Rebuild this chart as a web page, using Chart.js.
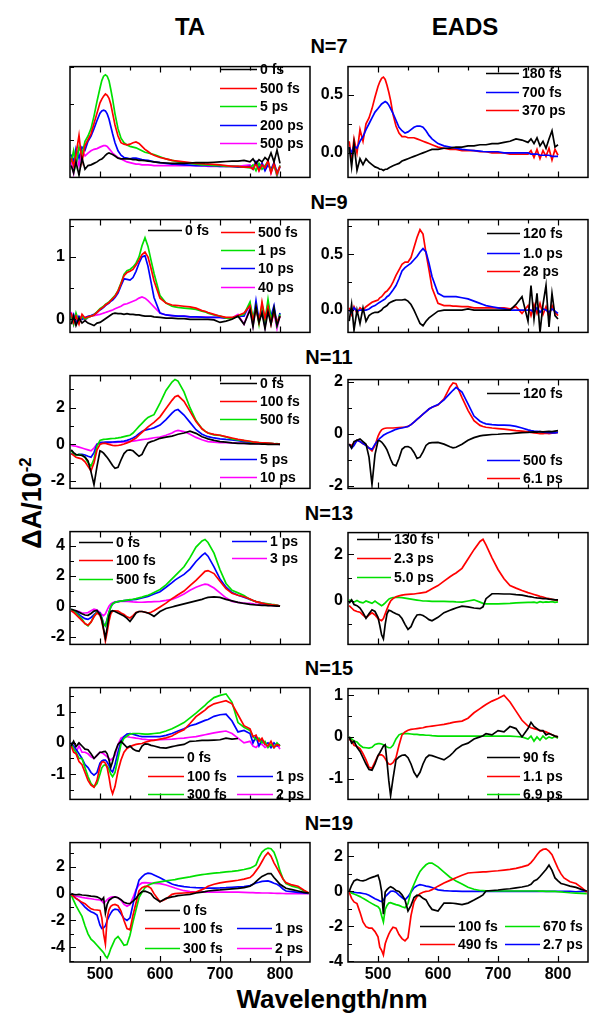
<!DOCTYPE html>
<html><head><meta charset="utf-8">
<script src="https://cdn.jsdelivr.net/npm/chart.js@4.4.1/dist/chart.umd.min.js"></script>
<style>
body{margin:0;background:#fff;width:604px;height:1029px;position:relative;overflow:hidden;font-family:'Liberation Sans',Arial,sans-serif;}
.t{position:absolute;font-weight:bold;color:#000;white-space:nowrap;transform:translate(-50%,-50%);line-height:1;}
canvas{position:absolute;}
sup{font-size:62%;vertical-align:0.55em;}
</style></head><body>
<div class="t" style="left:190px;top:27px;font-size:24px">TA</div>
<div class="t" style="left:465px;top:27px;font-size:24px">EADS</div>
<div class="t" style="left:329px;top:46px;font-size:20px">N=7</div>
<div class="t" style="left:329px;top:202px;font-size:20px">N=9</div>
<div class="t" style="left:329px;top:357px;font-size:20px">N=11</div>
<div class="t" style="left:329px;top:513px;font-size:20px">N=13</div>
<div class="t" style="left:329px;top:668px;font-size:20px">N=15</div>
<div class="t" style="left:329px;top:823px;font-size:20px">N=19</div>
<div class="t" style="left:32px;top:503px;font-size:27px;transform:translate(-50%,-50%) rotate(-90deg)">ΔA/10<sup>-2</sup></div>
<div class="t" style="left:332px;top:999px;font-size:26px">Wavelength/nm</div>
<script>
// ---------- wavelength grids (nm) ----------
const wl = [452,456,460,465,470,475,480,485,490,495,
 500,503,506,509,512,515,518,521,525,530,
 535,540,545,550,555,560,565,570,575,580,
 585,590,600,610,620,625,630,640,650,660,
 670,675,680,690,700,710,720,730,740,750,
 755,760,765,770,775,780,785,790,795,800];
const wl19 = [452,456,460,465,470,475,480,485,490,495,
 500,503,506,509,512,515,518,521,525,530,
 535,540,545,550,555,560,565,570,575,580,
 585,590,600,610,620,625,630,640,650,660,
 670,675,680,690,700,710,720,730,740,750,
 755,760,765,770,775,780,785,790,795,800,
 805,810,820,830,840,848];
const xTickVals = [500,550,600,650,700,750,800];
const xLabels = [500,600,700,800];

// ---------- N=7 TA ----------
const n7TA_labels = ['0 fs','500 fs','5 ps','200 ps','500 ps'];
const n7TA_0fs = [0.05,-0.05,0.10,-0.08,0.15,0.00,0.05,0.06,0.08,0.10,
0.13,0.14,0.16,0.19,0.21,0.22,0.21,0.20,0.18,0.15,
0.14,0.14,0.14,0.14,0.13,0.13,0.12,0.12,0.115,0.11,
0.105,0.10,0.09,0.085,0.08,0.08,0.08,0.08,0.085,0.09,
0.09,0.09,0.09,0.095,0.10,0.105,0.11,0.11,0.12,0.10,
0.14,0.08,0.13,0.10,0.16,0.12,0.22,0.10,0.26,0.08];
const n7TA_500fs = [0.15,0.05,0.20,0.46,0.10,0.32,0.40,0.48,0.62,0.76,
0.90,0.95,0.99,1.02,1.00,0.96,0.88,0.76,0.60,0.45,
0.36,0.34,0.33,0.34,0.36,0.37,0.35,0.31,0.27,0.24,
0.21,0.19,0.16,0.14,0.12,0.115,0.11,0.10,0.09,0.08,
0.075,0.072,0.07,0.065,0.06,0.05,0.04,0.04,0.03,0.03,
0.00,0.08,-0.02,0.06,0.02,0.12,-0.05,0.08,-0.06,0.04];
const n7TA_5ps = [0.10,0.25,0.05,0.30,0.20,0.38,0.45,0.55,0.72,0.92,
1.10,1.20,1.26,1.28,1.26,1.20,1.08,0.95,0.75,0.55,
0.42,0.36,0.33,0.31,0.30,0.29,0.27,0.25,0.23,0.22,
0.21,0.20,0.17,0.14,0.12,0.11,0.10,0.09,0.08,0.07,
0.06,0.06,0.06,0.05,0.05,0.04,0.04,0.04,0.03,0.02,
0.06,-0.02,0.08,0.00,0.05,0.10,-0.03,0.06,-0.08,0.05];
const n7TA_200ps = [0.20,0.10,0.28,0.15,0.30,0.26,0.38,0.45,0.55,0.66,
0.76,0.79,0.80,0.79,0.75,0.68,0.58,0.48,0.36,0.25,
0.19,0.16,0.15,0.14,0.15,0.15,0.14,0.13,0.125,0.12,
0.11,0.10,0.09,0.08,0.07,0.068,0.065,0.06,0.055,0.05,
0.05,0.05,0.05,0.045,0.04,0.04,0.04,0.03,0.03,0.04,
0.00,0.10,0.02,0.08,-0.02,0.06,0.00,0.09,-0.04,0.03];
const n7TA_500ps = [0.10,-0.05,0.22,0.05,0.25,0.18,0.22,0.25,0.27,0.28,
0.30,0.31,0.32,0.32,0.31,0.28,0.25,0.22,0.19,0.16,
0.14,0.12,0.10,0.09,0.08,0.07,0.07,0.06,0.06,0.06,
0.055,0.05,0.05,0.05,0.05,0.05,0.05,0.05,0.05,0.05,
0.045,0.045,0.04,0.04,0.04,0.04,0.04,0.04,0.05,0.06,
0.02,0.10,-0.02,0.08,0.02,0.10,-0.05,0.07,-0.10,0.05];

// ---------- N=7 EADS ----------
const n7EADS_labels = ['180 fs','700 fs','370 ps'];
const n7EADS_180fs = [0.05,-0.12,0.08,-0.15,-0.05,-0.10,-0.05,-0.08,-0.10,-0.12,
-0.13,-0.14,-0.14,-0.15,-0.14,-0.14,-0.13,-0.12,-0.11,-0.10,
-0.09,-0.07,-0.06,-0.05,-0.04,-0.03,-0.02,-0.01,0.00,0.01,
0.02,0.03,0.03,0.04,0.04,0.045,0.05,0.05,0.06,0.06,
0.07,0.07,0.07,0.08,0.08,0.09,0.10,0.12,0.11,0.09,
0.12,0.08,0.13,0.06,0.10,0.04,0.12,0.19,0.05,0.07];
const n7EADS_700fs = [0.05,0.00,0.06,0.04,0.10,0.14,0.20,0.25,0.30,0.35,
0.38,0.40,0.42,0.43,0.44,0.43,0.41,0.38,0.34,0.28,
0.22,0.19,0.17,0.18,0.20,0.22,0.23,0.23,0.22,0.19,
0.15,0.12,0.08,0.06,0.05,0.045,0.04,0.03,0.025,0.02,
0.015,0.012,0.01,0.01,0.01,0.00,0.00,0.00,0.00,0.00,
-0.01,-0.01,-0.01,-0.02,-0.02,-0.02,-0.02,-0.03,-0.03,-0.03];
const n7EADS_370ps = [0.10,-0.05,0.12,0.00,0.20,0.10,0.25,0.30,0.38,0.48,
0.57,0.61,0.64,0.65,0.63,0.58,0.52,0.45,0.33,0.23,
0.17,0.14,0.14,0.13,0.13,0.13,0.12,0.11,0.10,0.09,
0.08,0.07,0.05,0.04,0.03,0.03,0.03,0.02,0.02,0.02,
0.01,0.01,0.01,0.00,0.00,0.00,-0.01,-0.01,-0.01,-0.01,
0.02,-0.04,0.03,-0.05,0.02,-0.03,0.04,-0.06,0.03,-0.02];

// ---------- N=9 TA ----------
const n9TA_labels = ['0 fs','500 fs','1 ps','10 ps','40 ps'];
const n9TA_0fs = [-0.08,0.05,-0.10,0.02,-0.06,-0.02,-0.06,-0.08,-0.10,-0.06,
-0.05,-0.03,-0.01,0.01,0.03,0.05,0.07,0.09,0.10,0.09,
0.09,0.08,0.09,0.08,0.08,0.07,0.07,0.06,0.05,0.05,
0.05,0.04,0.03,0.02,0.02,0.015,0.01,0.01,0.00,0.00,
0.00,0.00,0.00,-0.01,-0.05,-0.03,0.00,0.05,-0.08,0.15,
-0.12,0.20,-0.05,0.10,-0.15,0.12,-0.08,0.18,-0.10,0.05];
const n9TA_500fs = [0.10,-0.05,0.05,-0.08,0.08,0.02,0.04,0.05,0.07,0.11,
0.16,0.18,0.20,0.23,0.25,0.27,0.30,0.33,0.37,0.45,
0.57,0.70,0.75,0.77,0.80,0.87,0.95,1.04,1.08,1.00,
0.82,0.62,0.34,0.26,0.23,0.225,0.22,0.21,0.20,0.18,
0.14,0.13,0.11,0.08,0.05,0.03,0.03,0.06,0.10,0.22,
-0.02,0.18,-0.05,0.28,0.02,0.20,-0.08,0.12,-0.05,0.05];
const n9TA_1ps = [0.05,-0.08,0.10,-0.05,0.05,0.00,0.03,0.05,0.07,0.12,
0.17,0.19,0.21,0.24,0.26,0.28,0.31,0.34,0.38,0.46,
0.58,0.72,0.78,0.80,0.84,0.90,1.00,1.18,1.31,1.17,
0.95,0.74,0.38,0.26,0.21,0.20,0.19,0.18,0.17,0.16,
0.13,0.12,0.10,0.07,0.05,0.02,0.02,0.05,0.08,0.28,
0.02,0.20,-0.08,0.24,-0.02,0.32,0.00,0.15,-0.10,0.08];
const n9TA_10ps = [0.00,0.08,-0.05,0.05,0.00,0.03,0.05,0.06,0.08,0.11,
0.15,0.17,0.19,0.22,0.24,0.26,0.29,0.31,0.35,0.42,
0.54,0.65,0.64,0.63,0.67,0.77,0.90,1.00,1.02,0.85,
0.60,0.35,0.10,0.07,0.06,0.055,0.05,0.05,0.04,0.04,
0.035,0.03,0.03,0.03,0.03,0.02,0.02,0.05,0.05,0.25,
-0.05,0.30,-0.02,0.18,-0.10,0.25,0.05,0.22,-0.08,0.10];
const n9TA_40ps = [0.12,-0.08,0.08,0.00,0.05,-0.02,0.03,0.05,0.06,0.07,
0.08,0.09,0.10,0.11,0.12,0.13,0.14,0.15,0.17,0.19,
0.21,0.24,0.25,0.27,0.29,0.31,0.34,0.36,0.34,0.30,
0.25,0.20,0.10,0.07,0.06,0.055,0.05,0.05,0.04,0.04,
0.035,0.035,0.03,0.03,0.03,0.02,0.02,0.08,-0.08,0.18,
-0.10,0.20,0.00,0.12,-0.12,0.22,-0.05,0.10,-0.15,0.06];

// ---------- N=9 EADS ----------
const n9EADS_labels = ['120 fs','1.0 ps','28 ps'];
const n9EADS_120fs = [-0.10,0.05,-0.18,0.00,-0.12,0.02,-0.10,-0.05,-0.03,-0.02,
-0.02,-0.01,0.00,0.02,0.03,0.04,0.06,0.07,0.08,0.09,
0.09,0.09,0.095,0.08,0.05,0.00,-0.06,-0.12,-0.14,-0.10,
-0.07,-0.05,-0.01,0.00,0.00,0.00,0.00,0.00,0.01,0.00,
0.00,0.00,0.00,0.00,0.00,0.00,0.00,0.05,0.12,-0.10,
0.22,-0.08,0.15,-0.20,0.05,0.22,-0.15,0.15,-0.05,-0.08];
const n9EADS_1ps = [0.00,-0.02,0.02,-0.01,0.00,0.00,0.00,0.01,0.03,0.04,
0.06,0.07,0.08,0.09,0.10,0.12,0.13,0.15,0.18,0.22,
0.28,0.35,0.38,0.40,0.42,0.45,0.48,0.52,0.55,0.52,
0.42,0.30,0.15,0.12,0.12,0.12,0.12,0.11,0.10,0.08,
0.06,0.05,0.04,0.03,0.02,0.01,0.00,0.00,0.00,0.00,
0.00,-0.02,0.02,-0.02,0.01,0.00,-0.02,0.01,-0.01,-0.03];
const n9EADS_28ps = [0.02,-0.04,0.03,-0.03,0.02,0.00,0.03,0.05,0.07,0.08,
0.09,0.11,0.12,0.14,0.16,0.17,0.19,0.21,0.25,0.31,
0.36,0.41,0.43,0.43,0.47,0.56,0.65,0.72,0.68,0.51,
0.36,0.20,0.06,0.04,0.04,0.035,0.035,0.03,0.03,0.02,
0.02,0.02,0.02,0.02,0.02,0.02,0.01,0.03,-0.03,0.04,
-0.05,0.05,-0.03,0.06,-0.04,0.03,-0.06,0.04,-0.02,-0.05];

// ---------- N=11 TA ----------
const n11TA_labels = ['0 fs','100 fs','500 fs','5 ps','10 ps'];
const n11TA_0fs = [-0.30,-0.45,-0.55,-0.58,-0.60,-0.70,-0.90,-1.50,-2.20,-1.20,
-0.35,-0.40,-0.48,-0.60,-0.72,-0.85,-1.00,-1.15,-1.30,-1.25,
-0.85,-0.50,-0.33,-0.30,-0.35,-0.50,-0.65,-0.55,-0.20,0.08,
0.15,0.20,0.33,0.40,0.45,0.50,0.55,0.62,0.72,0.60,
0.42,0.36,0.30,0.22,0.15,0.12,0.08,0.06,0.05,0.03,
0.03,0.02,0.02,0.01,0.01,0.00,0.00,0.00,0.00,0.00];
const n11TA_100fs = [-0.50,-0.60,-0.70,-0.75,-0.80,-0.95,-1.20,-1.45,-1.00,-0.30,
0.00,0.04,0.05,0.05,0.03,0.00,-0.03,-0.05,-0.07,-0.06,
-0.03,0.02,0.08,0.15,0.25,0.35,0.50,0.65,0.80,0.95,
1.08,1.20,1.50,1.95,2.40,2.60,2.66,2.35,1.80,1.25,
0.85,0.72,0.62,0.55,0.50,0.42,0.35,0.28,0.22,0.17,
0.14,0.12,0.10,0.09,0.08,0.07,0.06,0.04,0.03,0.02];
const n11TA_500fs = [-0.35,-0.50,-0.60,-0.55,-0.60,-0.70,-1.00,-1.18,-0.80,-0.10,
0.22,0.25,0.27,0.28,0.29,0.30,0.31,0.32,0.33,0.35,
0.38,0.42,0.46,0.50,0.62,0.80,0.98,1.15,1.32,1.47,
1.55,1.62,2.25,2.94,3.40,3.54,3.45,2.86,2.00,1.30,
0.85,0.72,0.62,0.52,0.49,0.40,0.30,0.25,0.20,0.15,
0.12,0.10,0.10,0.08,0.05,0.05,0.06,0.03,0.04,0.00];
const n11TA_5ps = [-0.50,-0.55,-0.60,-0.55,-0.55,-0.58,-0.65,-0.70,-0.45,0.00,
0.10,0.11,0.11,0.12,0.12,0.12,0.12,0.13,0.14,0.15,
0.16,0.18,0.22,0.28,0.35,0.45,0.58,0.70,0.78,0.82,
0.85,0.90,1.05,1.35,1.70,1.85,1.90,1.60,1.20,0.80,
0.55,0.48,0.42,0.35,0.30,0.27,0.25,0.20,0.15,0.12,
0.10,0.08,0.07,0.06,0.05,0.05,0.04,0.03,0.02,0.02];
const n11TA_10ps = [-0.05,-0.08,-0.10,-0.15,-0.20,-0.25,-0.30,-0.35,-0.20,0.02,
0.07,0.08,0.09,0.09,0.10,0.10,0.10,0.11,0.11,0.12,
0.12,0.13,0.14,0.16,0.18,0.20,0.23,0.26,0.28,0.30,
0.33,0.36,0.40,0.50,0.62,0.72,0.76,0.70,0.55,0.38,
0.25,0.20,0.15,0.12,0.10,0.09,0.08,0.07,0.06,0.05,
0.05,0.04,0.04,0.03,0.03,0.02,0.02,0.01,0.01,0.00];

// ---------- N=11 EADS ----------
const n11EADS_labels = ['120 fs','500 fs','6.1 ps'];
const n11EADS_120fs = [-0.40,-0.55,-0.30,-0.25,-0.20,-0.30,-0.40,-0.90,-1.95,-0.80,
-0.27,-0.27,-0.32,-0.40,-0.50,-0.62,-0.80,-0.98,-1.18,-1.23,
-0.95,-0.60,-0.50,-0.49,-0.55,-0.72,-0.95,-0.90,-0.70,-0.45,
-0.36,-0.34,-0.33,-0.40,-0.50,-0.54,-0.52,-0.40,-0.25,-0.15,
-0.08,-0.06,-0.05,-0.03,-0.02,0.00,0.00,0.02,0.04,0.05,
0.06,0.07,0.06,0.08,0.07,0.08,0.09,0.08,0.10,0.12];
const n11EADS_500fs = [-0.40,-0.55,-0.45,-0.25,-0.30,-0.38,-0.45,-0.55,-0.60,-0.40,
-0.25,-0.18,-0.12,-0.06,-0.02,0.02,0.05,0.08,0.12,0.17,
0.20,0.22,0.25,0.28,0.35,0.45,0.55,0.65,0.75,0.85,
0.95,1.02,1.12,1.30,1.55,1.67,1.78,1.60,1.15,0.68,
0.48,0.42,0.38,0.35,0.33,0.33,0.32,0.28,0.22,0.15,
0.12,0.10,0.09,0.08,0.06,0.05,0.04,0.03,0.03,0.05];
const n11EADS_6ps = [-0.40,-0.45,-0.35,-0.25,-0.30,-0.38,-0.43,-0.55,-0.66,-0.45,
-0.10,0.05,0.15,0.19,0.21,0.22,0.22,0.22,0.22,0.23,
0.24,0.25,0.26,0.28,0.35,0.45,0.55,0.65,0.75,0.85,
0.95,1.02,1.10,1.34,1.80,1.95,1.92,1.39,0.90,0.50,
0.32,0.28,0.25,0.22,0.20,0.18,0.15,0.12,0.10,0.07,
0.05,0.03,0.02,0.00,0.00,0.02,0.00,0.02,0.03,0.05];

// ---------- N=13 TA ----------
const n13TA_labels = ['0 fs','100 fs','500 fs','1 ps','3 ps'];
const n13TA_0fs = [-0.20,-0.25,-0.30,-0.40,-0.50,-0.58,-0.60,-0.48,-0.32,-0.28,
-0.55,-0.90,-1.50,-2.10,-1.40,-0.65,-0.35,-0.30,-0.35,-0.45,
-0.55,-0.65,-0.80,-1.00,-0.75,-0.45,-0.35,-0.35,-0.40,-0.45,
-0.55,-0.67,-0.35,-0.15,-0.05,0.00,0.05,0.15,0.25,0.35,
0.45,0.52,0.58,0.62,0.58,0.45,0.35,0.25,0.18,0.12,
0.10,0.08,0.07,0.06,0.05,0.04,0.03,0.02,0.01,0.00];
const n13TA_100fs = [-0.30,-0.40,-0.55,-0.75,-0.95,-1.15,-1.25,-1.05,-0.70,-0.45,
-0.60,-1.00,-1.60,-2.30,-1.70,-1.00,-0.50,-0.32,-0.30,-0.32,
-0.45,-0.55,-0.70,-0.78,-0.62,-0.42,-0.35,-0.35,-0.38,-0.45,
-0.40,-0.30,-0.05,0.20,0.50,0.62,0.75,1.00,1.35,1.70,
2.10,2.30,2.35,2.15,1.65,1.15,0.85,0.72,0.62,0.48,
0.38,0.30,0.25,0.20,0.16,0.12,0.10,0.08,0.05,0.00];
const n13TA_500fs = [-0.20,-0.30,-0.45,-0.65,-0.85,-1.15,-1.30,-1.05,-0.65,-0.40,
-0.50,-0.80,-1.20,-1.30,-0.90,-0.40,-0.05,0.15,0.25,0.30,
0.34,0.37,0.40,0.43,0.46,0.50,0.55,0.60,0.66,0.72,
0.80,0.90,1.10,1.40,1.80,2.00,2.20,2.60,3.20,3.90,
4.30,4.40,4.20,3.50,2.40,1.50,1.05,0.88,0.70,0.45,
0.38,0.30,0.25,0.20,0.18,0.15,0.12,0.10,0.05,0.00];
const n13TA_1ps = [-0.20,-0.28,-0.40,-0.55,-0.70,-0.82,-0.87,-0.75,-0.55,-0.38,
-0.45,-0.75,-1.15,-1.30,-0.85,-0.40,-0.05,0.15,0.25,0.30,
0.34,0.37,0.39,0.41,0.43,0.45,0.50,0.55,0.60,0.65,
0.72,0.80,0.95,1.25,1.55,1.72,1.85,2.10,2.45,2.95,
3.35,3.50,3.30,2.60,1.80,1.25,0.90,0.72,0.60,0.45,
0.38,0.30,0.25,0.20,0.16,0.12,0.10,0.08,0.05,0.00];
const n13TA_3ps = [-0.30,-0.40,-0.30,-0.35,-0.45,-0.45,-0.42,-0.30,-0.20,-0.25,
-0.40,-0.55,-0.63,-0.50,-0.25,0.00,0.15,0.22,0.28,0.30,
0.32,0.33,0.32,0.30,0.28,0.27,0.26,0.26,0.27,0.28,
0.29,0.30,0.32,0.38,0.45,0.52,0.60,0.80,1.05,1.25,
1.40,1.45,1.42,1.20,0.88,0.55,0.32,0.25,0.20,0.18,
0.15,0.12,0.12,0.10,0.08,0.06,0.05,0.04,0.02,0.00];

// ---------- N=13 EADS ----------
const n13EADS_labels = ['130 fs','2.3 ps','5.0 ps'];
const n13EADS_130fs = [-0.10,0.05,-0.15,-0.20,-0.30,-0.50,-0.74,-0.55,-0.38,-0.45,
-0.70,-1.05,-1.45,-1.62,-1.00,-0.55,-0.40,-0.42,-0.48,-0.55,
-0.60,-0.75,-1.00,-1.22,-1.10,-0.80,-0.60,-0.58,-0.62,-0.70,
-0.80,-0.85,-0.70,-0.50,-0.40,-0.35,-0.30,-0.22,-0.25,-0.30,
-0.33,-0.25,0.10,0.31,0.31,0.30,0.30,0.27,0.25,0.20,
0.18,0.15,0.13,0.12,0.10,0.10,0.08,0.07,0.05,0.05];
const n13EADS_2ps = [-0.20,-0.30,-0.40,-0.45,-0.48,-0.60,-0.71,-0.60,-0.51,-0.60,
-0.75,-0.80,-0.84,-0.75,-0.55,-0.35,-0.15,0.00,0.10,0.18,
0.22,0.25,0.27,0.28,0.29,0.30,0.32,0.34,0.36,0.38,
0.45,0.52,0.66,0.85,1.04,1.12,1.20,1.40,1.80,2.20,
2.55,2.64,2.40,1.85,1.35,0.95,0.66,0.55,0.45,0.36,
0.32,0.28,0.24,0.20,0.17,0.13,0.10,0.07,0.05,0.03];
const n13EADS_5ps = [0.05,0.00,-0.05,0.02,-0.05,-0.08,0.00,-0.05,-0.10,0.00,
-0.10,-0.15,-0.20,-0.15,-0.08,0.00,0.08,0.12,0.15,0.15,
0.15,0.14,0.12,0.10,0.08,0.06,0.04,0.02,0.00,0.00,
-0.01,-0.02,-0.02,-0.02,-0.03,-0.03,-0.04,-0.05,0.00,0.05,
-0.05,-0.10,-0.12,-0.12,-0.12,-0.11,-0.10,-0.08,-0.07,-0.06,
-0.06,-0.05,-0.08,-0.03,-0.06,-0.04,-0.05,-0.03,-0.06,-0.04];

// ---------- N=15 TA ----------
const n15TA_labels = ['0 fs','100 fs','300 fs','1 ps','2 ps'];
const n15TA_0fs = [-0.10,0.05,-0.12,0.00,-0.10,-0.20,-0.22,-0.35,-0.50,-0.40,
-0.30,-0.30,-0.28,-0.27,-0.35,-0.55,-0.78,-0.60,-0.30,-0.05,
0.05,-0.05,-0.15,-0.10,-0.20,-0.25,-0.27,-0.10,-0.03,-0.04,
-0.08,-0.10,-0.15,-0.17,-0.12,-0.10,-0.08,-0.05,0.05,0.06,
0.08,0.08,0.08,0.09,0.10,0.15,0.12,0.14,null,null,
null,null,null,null,null,null,null,null,null,null];
const n15TA_100fs = [-0.10,-0.30,-0.35,-0.60,-0.70,-0.95,-1.20,-1.35,-1.42,-1.20,
-0.75,-0.62,-0.60,-0.65,-0.80,-1.10,-1.45,-1.63,-1.40,-0.90,
-0.55,-0.30,-0.18,-0.12,-0.08,-0.05,-0.03,-0.02,0.02,0.05,
0.07,0.08,0.12,0.16,0.22,0.28,0.33,0.42,0.62,0.84,
0.98,1.05,1.14,1.25,1.30,1.35,1.25,0.90,0.55,0.45,
0.20,0.25,0.05,0.15,-0.05,-0.10,0.05,-0.15,-0.05,-0.10];
const n15TA_300fs = [0.00,-0.20,-0.30,-0.50,-0.50,-0.80,-1.08,-1.30,-1.41,-1.30,
-1.00,-0.80,-0.72,-0.70,-0.75,-0.85,-1.00,-1.08,-0.95,-0.50,
-0.05,0.15,0.22,0.28,0.30,0.30,0.30,0.29,0.28,0.28,
0.29,0.30,0.32,0.38,0.45,0.50,0.55,0.65,0.80,0.95,
1.12,1.20,1.30,1.45,1.52,1.57,1.30,0.65,0.50,0.40,
0.20,0.10,0.15,0.00,0.05,-0.15,-0.05,-0.15,0.00,-0.10];
const n15TA_1ps = [0.00,-0.10,-0.20,-0.35,-0.50,-0.70,-0.79,-0.95,-1.03,-0.95,
-0.65,-0.58,-0.55,-0.55,-0.62,-0.72,-0.88,-0.93,-0.70,-0.30,
0.05,0.20,0.28,0.30,0.28,0.25,0.22,0.20,0.20,0.20,
0.20,0.20,0.20,0.24,0.30,0.34,0.38,0.45,0.55,0.60,
0.68,0.72,0.75,0.85,0.90,0.92,0.70,0.35,0.40,0.30,
0.00,0.20,-0.10,0.10,-0.05,0.00,-0.15,0.00,-0.10,-0.05];
const n15TA_2ps = [0.00,-0.10,-0.30,-0.10,-0.30,-0.30,-0.35,-0.45,-0.50,-0.40,
-0.30,-0.32,-0.35,-0.40,-0.45,-0.50,-0.55,-0.50,-0.40,-0.05,
0.15,0.20,0.20,0.18,0.17,0.15,0.14,0.12,0.11,0.10,
0.10,0.10,0.10,0.11,0.12,0.13,0.14,0.15,0.18,0.20,
0.24,0.26,0.28,0.32,0.35,0.38,0.30,0.15,0.00,0.05,
-0.10,-0.15,-0.05,-0.05,-0.15,-0.10,-0.05,-0.15,-0.05,-0.20];

// ---------- N=15 EADS ----------
const n15EADS_labels = ['90 fs','1.1 ps','6.9 ps'];
const n15EADS_90fs = [0.00,-0.15,-0.10,-0.25,-0.35,-0.50,-0.65,-0.78,-0.80,-0.65,
-0.45,-0.38,-0.30,-0.22,-0.19,-0.60,-1.05,-1.41,-1.00,-0.55,
-0.48,-0.44,-0.43,-0.50,-0.65,-0.85,-0.96,-0.85,-0.65,-0.50,
-0.44,-0.45,-0.50,-0.55,-0.45,-0.38,-0.30,-0.20,-0.15,-0.05,
0.00,0.03,0.08,0.05,0.15,0.12,0.25,0.20,0.00,0.20,
0.35,0.25,0.20,0.15,0.15,0.05,0.08,0.05,0.02,0.00];
const n15EADS_1ps = [-0.05,-0.10,-0.20,-0.23,-0.28,-0.40,-0.55,-0.73,-0.75,-0.60,
-0.45,-0.43,-0.43,-0.46,-0.52,-0.60,-0.65,-0.66,-0.62,-0.50,
-0.20,0.05,0.12,0.16,0.18,0.19,0.20,0.21,0.22,0.24,
0.25,0.26,0.28,0.30,0.33,0.35,0.36,0.38,0.45,0.58,
0.68,0.73,0.78,0.86,0.92,1.00,0.84,0.62,0.40,0.26,
0.22,0.20,0.18,0.15,0.14,0.12,0.09,0.05,0.02,0.00];
const n15EADS_7ps = [0.00,-0.05,-0.10,-0.12,-0.20,-0.25,-0.26,-0.27,-0.25,-0.18,
-0.16,-0.16,-0.17,-0.19,-0.21,-0.24,-0.26,-0.26,-0.20,-0.05,
0.05,0.08,0.08,0.08,0.07,0.06,0.06,0.05,0.05,0.04,
0.04,0.03,0.02,0.02,0.02,0.02,0.02,0.02,0.02,0.02,
0.02,0.02,0.02,0.02,0.02,0.02,0.02,0.01,0.00,-0.05,
0.02,-0.10,0.00,-0.08,0.02,-0.05,0.00,-0.03,0.01,-0.03];

// ---------- N=19 TA ----------
const n19TA_labels = ['0 fs','100 fs','300 fs','1 ps','2 ps'];
const n19TA_0fs = [0.00,-0.05,-0.08,-0.05,-0.10,-0.12,-0.15,-0.18,-0.20,-0.24,
-0.35,-0.47,-0.30,-1.45,-0.80,-0.50,-0.40,-0.30,-0.24,-0.30,
-0.45,-0.65,-0.72,-0.75,-0.55,-0.35,-0.05,0.15,0.18,0.10,
0.00,-0.30,-0.60,-0.35,-0.24,-0.20,-0.15,-0.10,-0.05,0.05,
0.12,0.15,0.20,0.25,0.28,0.32,0.36,0.40,0.45,0.55,
0.70,0.90,1.10,1.29,1.40,1.50,1.50,1.20,0.95,0.70,
0.55,0.40,0.30,0.20,0.10,0.05];
const n19TA_100fs = [-0.05,-0.20,-0.35,-0.50,-0.65,-0.75,-0.95,-1.13,-1.20,-1.22,
-1.25,-1.80,-3.00,-3.76,-1.80,-1.20,-0.95,-0.85,-0.80,-0.90,
-1.30,-2.00,-2.60,-2.70,-1.60,-0.70,0.20,0.45,0.55,0.55,
0.40,0.00,-0.60,-0.40,-0.05,0.00,0.02,0.05,0.08,0.12,
0.30,0.40,0.55,0.70,0.80,0.88,0.94,1.00,1.08,1.20,
1.40,1.70,2.00,2.40,2.80,3.06,2.80,2.30,1.90,1.50,
1.10,0.82,0.65,0.55,0.25,0.05];
const n19TA_300fs = [-0.10,-0.50,-0.90,-1.30,-1.70,-2.40,-3.00,-3.40,-3.60,-3.85,
-4.10,-4.25,-4.40,-4.65,-4.80,-4.50,-4.10,-3.80,-3.40,-3.20,
-3.50,-3.85,-3.80,-3.10,-2.10,-1.20,-0.30,0.10,0.45,0.62,
0.72,0.80,0.88,0.95,1.02,1.05,1.10,1.18,1.25,1.35,
1.42,1.45,1.48,1.53,1.57,1.62,1.66,1.72,1.80,1.90,
2.00,2.15,2.70,3.10,3.30,3.40,3.35,3.10,2.50,1.70,
1.10,0.75,0.55,0.45,0.20,0.05];
const n19TA_1ps = [-0.05,-0.20,-0.35,-0.50,-0.75,-1.00,-1.20,-1.35,-1.45,-1.60,
-2.35,-2.60,-2.55,-2.40,-2.00,-1.70,-1.45,-1.25,-1.15,-1.20,
-1.50,-1.85,-2.00,-1.80,-0.80,0.20,1.00,1.25,1.45,1.53,
1.50,1.40,1.18,0.95,0.72,0.65,0.60,0.52,0.48,0.45,
0.43,0.42,0.42,0.42,0.43,0.45,0.48,0.50,0.52,0.60,
0.70,0.80,0.85,0.92,0.94,0.95,0.88,0.78,0.70,0.55,
0.35,0.20,0.15,0.10,0.05,0.02];
const n19TA_2ps = [-0.05,-0.12,-0.18,-0.23,-0.28,-0.32,-0.35,-0.38,-0.42,-0.45,
-0.47,-0.55,-0.70,-0.60,-0.45,-0.35,-0.28,-0.24,-0.23,-0.30,
-0.50,-0.80,-0.94,-0.82,-0.30,0.30,0.65,0.80,0.82,0.80,
0.78,0.76,0.75,0.65,0.50,0.42,0.35,0.22,0.16,0.12,
0.12,0.12,0.12,0.12,0.12,0.12,0.12,0.11,0.10,0.08,
0.07,0.06,0.06,0.05,0.05,0.05,0.04,0.03,0.02,0.02,
0.01,0.00,0.00,0.00,0.00,0.00];

// ---------- N=19 EADS ----------
const n19EADS_labels = ['100 fs','490 fs','670 fs','2.7 ps'];
const n19EADS_100fs = [0.00,0.35,0.60,0.68,0.62,0.60,0.65,0.74,0.80,0.86,
0.93,0.60,0.00,-1.30,-0.04,0.10,0.20,0.27,0.20,0.05,
0.00,-0.20,-0.49,-1.12,-0.80,-0.35,-0.22,-0.25,-0.40,-0.49,
-0.80,-1.03,-1.12,-0.67,-0.67,-0.68,-0.70,-0.76,-0.67,-0.50,
-0.31,-0.20,0.02,0.05,0.08,0.12,0.15,0.20,0.25,0.32,
0.40,0.60,0.68,0.85,1.05,1.25,1.50,1.20,0.77,0.60,
0.45,0.41,0.30,0.23,0.10,0.02];
const n19EADS_490fs = [-0.05,-0.40,-0.60,-0.70,-1.20,-1.75,-2.02,-2.10,-2.10,-2.30,
-2.60,-3.19,-3.37,-3.64,-3.00,-2.70,-2.45,-2.25,-2.05,-2.10,
-2.47,-2.70,-2.83,-2.65,-1.39,-0.60,-0.30,-0.13,-0.05,0.00,
0.02,0.10,0.30,0.48,0.63,0.70,0.78,0.92,1.05,1.08,
1.10,1.11,1.12,1.15,1.18,1.22,1.26,1.32,1.40,1.50,
1.65,1.85,2.10,2.30,2.40,2.43,2.30,2.10,1.70,1.32,
1.00,0.77,0.55,0.45,0.20,-0.04];
const n19EADS_670fs = [0.00,-0.10,-0.15,-0.22,-0.30,-0.40,-0.49,-0.60,-0.70,-0.80,
-0.88,-1.00,-1.39,-1.75,-1.03,-0.80,-0.67,-0.65,-0.70,-0.76,
-0.80,-0.88,-0.94,-0.70,0.00,0.41,0.80,1.14,1.35,1.52,
1.62,1.62,1.40,1.10,0.81,0.70,0.60,0.42,0.24,0.12,
0.05,0.04,0.03,0.02,0.02,0.02,0.02,0.02,0.02,0.02,
0.02,0.02,0.02,0.01,0.01,0.00,0.00,0.00,0.00,-0.02,
-0.03,-0.05,-0.08,-0.10,-0.12,-0.13];
const n19EADS_2ps = [0.00,-0.03,-0.05,-0.08,-0.09,-0.12,-0.15,-0.22,-0.32,-0.42,
-0.49,-0.55,-0.58,-0.50,-0.31,-0.20,-0.10,0.00,0.02,-0.05,
-0.22,-0.35,-0.49,-0.30,-0.05,0.20,0.32,0.38,0.35,0.30,
0.27,0.22,0.09,0.04,0.02,0.01,0.01,0.00,0.00,0.00,
0.00,0.00,0.00,0.00,0.00,0.00,0.00,0.00,0.00,0.00,
0.00,0.00,0.00,0.00,0.00,0.00,0.00,0.00,0.00,0.00,
0.00,0.00,0.00,-0.02,0.00,0.00];

// ---------- y-axis labelled values ----------
const yLab_n7TA = [0, 1], yLab_n7EADS = [0, 0.5];
const yLab_n9TA = [0, 1], yLab_n9EADS = [0, 0.5];
const yLab_n11TA = [-2, 0, 2], yLab_n11EADS = [-2, 0, 2];
const yLab_n13TA = [-2, 0, 2, 4], yLab_n13EADS = [0, 2];
const yLab_n15TA = [-1, 0, 1], yLab_n15EADS = [-1, 0, 1];
const yLab_n19TA = [-4, -2, 0, 2], yLab_n19EADS = [-4, -2, 0, 2];

// ---------- styles & layout ----------
const K = '#000000', R = '#ff0000', G = '#00e000', B = '#0000ff', M = '#ff00ff';
const FONT = "'Liberation Sans', Arial, Helvetica, sans-serif";
const L = 70, RX = 348, W = 240;

const panels = [
 {left:L, top:60, h:124, ymin:-0.11, ymax:1.39, step:0.5, lab:yLab_n7TA, dec:0, x:wl,
  s:[[n7TA_labels[0],K,n7TA_0fs],[n7TA_labels[1],R,n7TA_500fs],[n7TA_labels[2],G,n7TA_5ps],[n7TA_labels[3],B,n7TA_200ps],[n7TA_labels[4],M,n7TA_500ps]],
  leg:[[220,257,69],[220,257,88],[220,257,106],[220,257,125],[220,257,143]]},
 {left:RX, top:60, h:124, ymin:-0.21, ymax:0.74, step:0.25, lab:yLab_n7EADS, dec:1, x:wl,
  s:[[n7EADS_labels[0],K,n7EADS_180fs],[n7EADS_labels[1],B,n7EADS_700fs],[n7EADS_labels[2],R,n7EADS_370ps]],
  leg:[[486,519,73],[486,519,92],[486,519,110]]},
 {left:L, top:213, h:126, ymin:-0.21, ymax:1.6, step:0.5, lab:yLab_n9TA, dec:0, x:wl,
  s:[[n9TA_labels[0],K,n9TA_0fs],[n9TA_labels[1],R,n9TA_500fs],[n9TA_labels[2],G,n9TA_1ps],[n9TA_labels[3],B,n9TA_10ps],[n9TA_labels[4],M,n9TA_40ps]],
  leg:[[148,182,230],[221,255,232],[221,255,250],[221,255,268],[221,255,287]]},
 {left:RX, top:213, h:126, ymin:-0.2, ymax:0.81, step:0.25, lab:yLab_n9EADS, dec:1, x:wl,
  s:[[n9EADS_labels[0],K,n9EADS_120fs],[n9EADS_labels[1],B,n9EADS_1ps],[n9EADS_labels[2],R,n9EADS_28ps]],
  leg:[[487,520,233],[487,520,253],[487,520,271]]},
 {left:L, top:369, h:126, ymin:-2.4, ymax:3.75, step:1, lab:yLab_n11TA, dec:0, x:wl,
  s:[[n11TA_labels[0],K,n11TA_0fs],[n11TA_labels[1],R,n11TA_100fs],[n11TA_labels[2],G,n11TA_500fs],[n11TA_labels[3],B,n11TA_5ps],[n11TA_labels[4],M,n11TA_10ps]],
  leg:[[220,257,383],[220,257,401],[220,257,419],[220,257,459],[220,257,477]]},
 {left:RX, top:373, h:122, ymin:-2.1, ymax:2.08, step:1, lab:yLab_n11EADS, dec:0, x:wl,
  s:[[n11EADS_labels[0],K,n11EADS_120fs],[n11EADS_labels[1],B,n11EADS_500fs],[n11EADS_labels[2],R,n11EADS_6ps]],
  leg:[[487,520,393],[487,520,460],[487,520,478]]},
 {left:L, top:525, h:126, ymin:-2.52, ymax:4.92, step:1, lab:yLab_n13TA, dec:0, x:wl,
  s:[[n13TA_labels[0],K,n13TA_0fs],[n13TA_labels[1],R,n13TA_100fs],[n13TA_labels[2],G,n13TA_500fs],[n13TA_labels[3],B,n13TA_1ps],[n13TA_labels[4],M,n13TA_3ps]],
  leg:[[79,113,542],[79,113,560],[79,113,579],[232,267,541],[232,267,558]]},
 {left:RX, top:526, h:125, ymin:-1.86, ymax:2.93, step:1, lab:yLab_n13EADS, dec:0, x:wl,
  s:[[n13EADS_labels[0],K,n13EADS_130fs],[n13EADS_labels[1],R,n13EADS_2ps],[n13EADS_labels[2],G,n13EADS_5ps]],
  leg:[[357,391,539],[357,391,558],[357,391,577]]},
 {left:L, top:681, h:125, ymin:-1.81, ymax:1.77, step:0.5, lab:yLab_n15TA, dec:0, x:wl,
  s:[[n15TA_labels[0],K,n15TA_0fs],[n15TA_labels[1],R,n15TA_100fs],[n15TA_labels[2],G,n15TA_300fs],[n15TA_labels[3],B,n15TA_1ps],[n15TA_labels[4],M,n15TA_2ps]],
  leg:[[148,184,757],[148,184,776],[148,184,794],[237,273,776],[237,273,794]]},
 {left:RX, top:682, h:124, ymin:-1.5, ymax:1.16, step:0.5, lab:yLab_n15EADS, dec:0, x:wl,
  s:[[n15EADS_labels[0],K,n15EADS_90fs],[n15EADS_labels[1],R,n15EADS_1ps],[n15EADS_labels[2],G,n15EADS_7ps]],
  leg:[[487,520,757],[487,520,776],[487,520,794]]},
 {left:L, top:836, h:126, ymin:-5.1, ymax:3.81, step:1, lab:yLab_n19TA, dec:0, x:wl19, xl:true,
  s:[[n19TA_labels[0],K,n19TA_0fs],[n19TA_labels[1],R,n19TA_100fs],[n19TA_labels[2],G,n19TA_300fs],[n19TA_labels[3],B,n19TA_1ps],[n19TA_labels[4],M,n19TA_2ps]],
  leg:[[145,180,910],[145,180,928],[145,180,948],[237,272,928],[237,272,948]]},
 {left:RX, top:836, h:126, ymin:-4.04, ymax:2.79, step:1, lab:yLab_n19EADS, dec:0, x:wl19, xl:true,
  s:[[n19EADS_labels[0],K,n19EADS_100fs],[n19EADS_labels[1],R,n19EADS_490fs],[n19EADS_labels[2],G,n19EADS_670fs],[n19EADS_labels[3],B,n19EADS_2ps]],
  leg:[[420,455,926],[420,455,944],[505,540,926],[505,540,944]]}
];

function makeChart(p) {
  const padL = 50, padT = 8, padR = 8;
  const xH = p.xl ? 26 : 0, padB = p.xl ? 4 : 8;
  const cw = W + padL + padR, ch = p.h + padT + xH + padB;
  const ox = p.left - padL, oy = p.top - padT;
  const cv = document.createElement('canvas');
  cv.width = cw; cv.height = ch;
  cv.style.left = ox + 'px'; cv.style.top = oy + 'px';
  cv.style.width = cw + 'px'; cv.style.height = ch + 'px';
  document.body.appendChild(cv);

  const frame = {
    id: 'frame',
    afterDatasetsDraw(chart) {
      const {ctx, chartArea: a, scales: {x, y}} = chart;
      ctx.save();
      ctx.strokeStyle = '#000'; ctx.lineWidth = 1.5;
      ctx.strokeRect(a.left, a.top, a.right - a.left, a.bottom - a.top);
      ctx.beginPath();
      xTickVals.forEach(v => {
        const px = Math.round(x.getPixelForValue(v)) + 0.5;
        const len = v % 100 === 0 ? 6 : 4;
        ctx.moveTo(px, a.bottom); ctx.lineTo(px, a.bottom - len);
        ctx.moveTo(px, a.top); ctx.lineTo(px, a.top + len);
      });
      y.ticks.forEach(t => {
        const py = Math.round(y.getPixelForValue(t.value)) + 0.5;
        const major = p.lab.some(l => Math.abs(l - t.value) < 1e-6);
        ctx.moveTo(a.left, py); ctx.lineTo(a.left + (major ? 6 : 4), py);
      });
      ctx.lineWidth = 1.2;
      ctx.stroke();
      // legend
      ctx.font = 'bold 14px ' + FONT;
      ctx.textBaseline = 'middle'; ctx.textAlign = 'left';
      p.leg.forEach((g, i) => {
        const s = p.s[i];
        ctx.strokeStyle = s[1]; ctx.lineWidth = 1.7;
        ctx.beginPath(); ctx.moveTo(g[0] - ox, g[2] - oy + 0.5); ctx.lineTo(g[1] - ox, g[2] - oy + 0.5); ctx.stroke();
        ctx.fillStyle = '#000';
        ctx.fillText(s[0], g[1] - ox + 3, g[2] - oy + 1);
      });
      ctx.restore();
    }
  };

  new Chart(cv, {
    type: 'line',
    data: {
      datasets: p.s.map(s => ({
        label: s[0], borderColor: s[1], backgroundColor: s[1],
        data: p.x.map((xv, i) => ({x: xv, y: s[2][i]})),
        borderWidth: 1.7, pointRadius: 0, tension: 0, fill: false, spanGaps: false
      }))
    },
    options: {
      responsive: false, maintainAspectRatio: false, animation: false, devicePixelRatio: 1,
      layout: {padding: {left: 0, top: padT, right: padR, bottom: padB}},
      plugins: {legend: {display: false}, tooltip: {enabled: false}},
      scales: {
        x: {type: 'linear', min: 450, max: 850,
            grid: {display: false, drawTicks: false}, border: {display: false},
            ticks: {display: !!p.xl, stepSize: 50, padding: 3, autoSkip: false, maxRotation: 0,
                    color: '#000', font: {family: FONT, weight: 'bold', size: 16},
                    callback: v => xLabels.includes(v) ? String(v) : ''},
            afterFit: s => { s.height = xH; }},
        y: {type: 'linear', min: p.ymin, max: p.ymax,
            grid: {display: false, drawTicks: false}, border: {display: false},
            ticks: {stepSize: p.step, includeBounds: false, padding: 5, autoSkip: false,
                    color: '#000', font: {family: FONT, weight: 'bold', size: 16},
                    callback: v => { const m = p.lab.find(l => Math.abs(l - v) < 1e-6); return m === undefined ? '' : m.toFixed(p.dec); }},
            afterFit: s => { s.width = padL; }}
      }
    },
    plugins: [frame]
  });
}
panels.forEach(makeChart);
</script>
</body></html>
